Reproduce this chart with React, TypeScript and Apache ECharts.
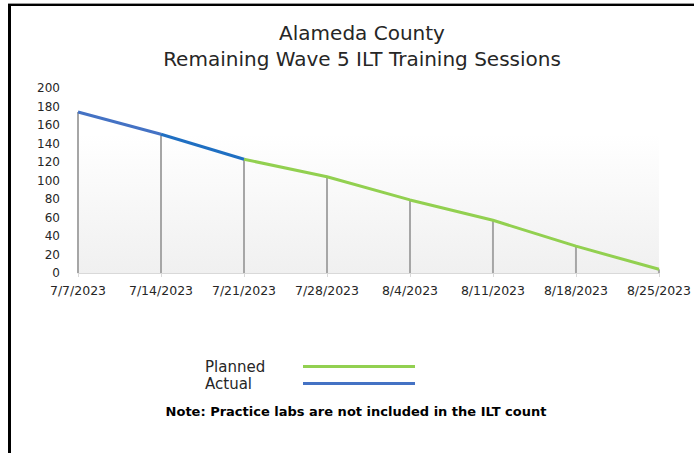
import React, { useEffect, useRef } from "react";
import * as echarts from "echarts";

const categories = ["7/7/2023", "7/14/2023", "7/21/2023", "7/28/2023", "8/4/2023", "8/11/2023", "8/18/2023", "8/25/2023"];
const planned = [null, null, 123, 104, 79, 57, 29, 4];
const actualA = [174, 150, null, null, null, null, null, null];
const actualB = [null, 150, 123, null, null, null, null, null];
const dropValues = [174, 150, 123, 104, 79, 57, 29, 4];
const yTicks = [0, 20, 40, 60, 80, 100, 120, 140, 160, 180, 200];

const FONT = "DejaVu Sans";

export default function App() {
  const ref = useRef<HTMLDivElement>(null);
  useEffect(() => {
    if (!ref.current) return;
    const chart = echarts.init(ref.current, null, { renderer: "svg" });
    chart.setOption({
      animation: false,
      backgroundColor: "#ffffff",
      textStyle: { fontFamily: FONT },
      title: [
        {
          text: "Alameda County\nRemaining Wave 5 ILT Training Sessions",
          left: 357,
          top: 15,
          textAlign: "center",
          textStyle: { fontFamily: FONT, fontSize: 20, fontWeight: "normal", color: "#262626", lineHeight: 26, align: "center" },
        },
        {
          text: "Note: Practice labs are not included in the ILT count",
          left: 351,
          top: 400,
          textAlign: "center",
          textStyle: { fontFamily: FONT, fontSize: 13, fontWeight: "bold", color: "#000000" },
        },
      ],
      legend: {
        data: ["Planned", "Actual"],
        orient: "vertical",
        left: 200,
        top: 354,
        align: "right",
        icon: "rect",
        itemWidth: 112,
        itemHeight: 3,
        itemGap: 2,
        formatter: (name: string) => "{t|" + name + "}",
        textStyle: {
          fontFamily: FONT,
          fontSize: 15,
          color: "#262626",
          rich: { t: { fontFamily: FONT, fontSize: 15, color: "#262626", width: 93, align: "left", lineHeight: 16 } },
        },
      },
      grid: {
        left: 78,
        right: 34,
        top: 88,
        bottom: 180,
        show: true,
        borderWidth: 0,
        backgroundColor: {
          type: "linear", x: 0, y: 0, x2: 0, y2: 1,
          colorStops: [
            { offset: 0, color: "#ffffff" },
            { offset: 0.25, color: "#ffffff" },
            { offset: 1, color: "#f0f0f0" },
          ],
        },
      },
      xAxis: {
        type: "category",
        data: categories,
        boundaryGap: false,
        axisLine: { lineStyle: { color: "#d9d9d9", width: 1 } },
        axisTick: { show: true, length: 4, lineStyle: { color: "#d9d9d9" } },
        axisLabel: { fontFamily: FONT, fontSize: 12.5, color: "#262626", margin: 11, interval: 0 },
        splitLine: { show: false },
      },
      yAxis: {
        type: "value",
        min: 0,
        max: 200,
        interval: 20,
        axisLine: { show: false },
        axisTick: { show: false },
        splitLine: { show: false },
        axisLabel: { fontFamily: FONT, fontSize: 12, color: "#262626", margin: 18 },
      },
      series: [
        {
          name: "drop",
          type: "bar",
          data: dropValues,
          barWidth: 2,
          itemStyle: { color: "#a6a6a6" },
          z: 1,
          silent: true,
        },
        {
          name: "Planned",
          type: "line",
          data: planned,
          showSymbol: false,
          symbol: "none",
          color: "#92D050",
          lineStyle: { color: "#92D050", width: 3 },
          z: 3,
        },
        {
          name: "Actual",
          type: "line",
          data: actualA,
          showSymbol: false,
          symbol: "none",
          color: "#4472C4",
          lineStyle: { color: "#4472C4", width: 3 },
          z: 3,
        },
        {
          name: "Actual segment",
          type: "line",
          data: actualB,
          showSymbol: false,
          symbol: "none",
          color: "#1F6FC2",
          lineStyle: { color: "#1F6FC2", width: 3 },
          z: 3,
        },
      ],
      graphic: [
        { type: "rect", shape: { x: 8, y: 3, width: 686, height: 1 }, style: { fill: "#9a9a9a" }, silent: true },
        { type: "rect", shape: { x: 8, y: 4, width: 686, height: 2 }, style: { fill: "#000000" }, silent: true },
        { type: "rect", shape: { x: 8, y: 4, width: 3, height: 449 }, style: { fill: "#000000" }, silent: true },
      ],
    });
    return () => chart.dispose();
  }, []);
  return <div ref={ref} style={{ position: "fixed", left: 0, top: 0, width: 694, height: 453 }} />;
}
